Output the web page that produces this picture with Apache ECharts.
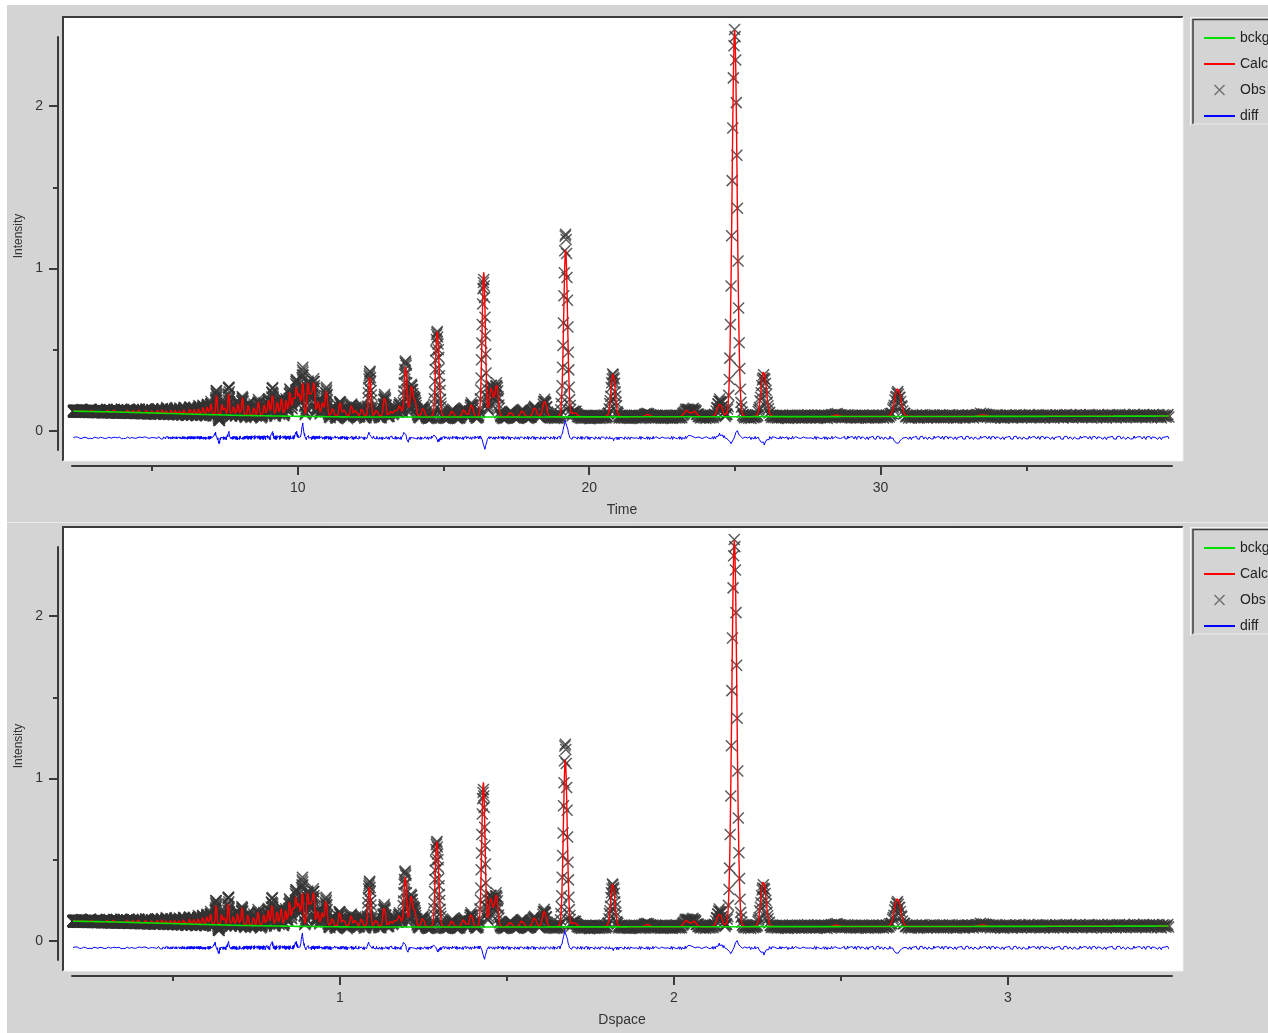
<!DOCTYPE html>
<html>
<head>
<meta charset="utf-8">
<title>Powder diffraction fit – Time and Dspace</title>
<script src="https://cdn.jsdelivr.net/npm/echarts@6/dist/echarts.min.js"></script>
<style>
  html, body { margin: 0; padding: 0; background: #fff; }
  #chart { width: 1268px; height: 1033px; }
</style>
</head>
<body>
<div id="chart"></div>
<script>
// ---------------------------------------------------------------------------
// Data: one time-of-flight histogram, refined profile shown twice
// (against flight time and against d-spacing, d = t / DIFC).
// ---------------------------------------------------------------------------
const DIFC = 11.46;                       // time-of-flight per Å
const TOF_FIRST = 2.3, TOF_LAST = 39.9;   // histogram limits
const BIN_STEP = 0.0008;                  // constant Δt/t binning
const PEAK_SIGMA = 0.0034;                // Gaussian σ as a fraction of peak position
const DIFF_OFFSET = -0.042;               // where the difference curve is drawn

// refined background (bckg)
const bckgTof = [2.3, 3.5, 5.0, 6.5, 8.0, 10.0, 12.0, 16.0, 25.0, 35.0, 40.0];
const bckgInt = [0.122, 0.118, 0.111, 0.103, 0.096, 0.090, 0.086, 0.086, 0.088, 0.090, 0.092];

// reflections: position (time) and calculated height above background
const peakTof = [2.6, 2.9, 3.2, 3.45, 3.7, 3.95, 4.15, 4.35, 4.55, 4.8,
                 5.0, 5.2, 5.35, 5.5, 5.65, 5.8, 5.95, 6.1, 6.3, 6.45,
                 6.6, 6.75, 6.9, 7.02, 7.21, 7.4, 7.5, 7.63, 7.8, 7.95,
                 8.1, 8.3, 8.5, 8.65, 8.85, 9.0, 9.13, 9.3, 9.44, 9.6,
                 9.73, 9.85, 9.95, 10.05, 10.17, 10.35, 10.45, 10.55, 10.7, 10.85,
                 10.98, 11.2, 11.45, 11.6, 11.84, 12.0, 12.2, 12.47, 12.7, 12.98,
                 13.2, 13.35, 13.5, 13.7, 13.9, 14.02, 14.3, 14.77, 14.84, 15.3,
                 15.7, 15.96, 16.38, 16.64, 16.82, 17.3, 17.7, 18.13, 18.47, 19.19,
                 19.5, 20.82, 22.0, 23.34, 23.6, 24.48, 24.99, 25.99, 28.48, 30.59,
                 33.5];
const peakInt = [0.008, 0.010, 0.009, 0.012, 0.012, 0.015, 0.012, 0.014, 0.018, 0.020,
                 0.016, 0.022, 0.025, 0.028, 0.022, 0.030, 0.028, 0.035, 0.040, 0.035,
                 0.045, 0.050, 0.060, 0.070, 0.130, 0.070, 0.050, 0.140, 0.060, 0.080,
                 0.110, 0.070, 0.060, 0.090, 0.070, 0.100, 0.140, 0.090, 0.110, 0.100,
                 0.160, 0.120, 0.190, 0.150, 0.210, 0.210, 0.140, 0.220, 0.100, 0.090,
                 0.170, 0.060, 0.090, 0.050, 0.070, 0.050, 0.060, 0.250, 0.050, 0.130,
                 0.040, 0.050, 0.080, 0.310, 0.190, 0.100, 0.060, 0.450, 0.180, 0.040,
                 0.050, 0.080, 0.890, 0.190, 0.200, 0.030, 0.040, 0.060, 0.100, 1.030,
                 0.030, 0.270, 0.015, 0.040, 0.035, 0.080, 2.380, 0.285, 0.010, 0.175,
                 0.010];

// misfit (observed minus calculated) around individual reflections
const misfitTof = [7.18, 7.3, 7.63, 9.13, 9.95, 10.17, 12.47, 13.68, 13.76, 14.74,
                   14.8, 16.34, 16.41, 19.19, 20.84, 23.5, 24.48, 24.93, 25.05, 26.0, 30.6];
const misfitInt = [0.03, -0.03, 0.03, 0.03, 0.03, 0.08, 0.03, 0.045, -0.025, 0.03,
                   -0.03, 0.02, -0.07, 0.10, -0.01, 0.015, 0.02, -0.045, 0.05, -0.035, -0.03];

// counting scatter of the observations, in thousandths, and its scale along the pattern
const residual = [4, -7, 2, 9, -3, -10, 6, 1, -5, 8, -2, -8, 5, 10, -6, 3, -1, 7, -9, 0,
                  6, -4, -11, 2, 8, -3, 5, -7, 1, 9, -6, -2, 4, -9, 7, 3, -5, 10, -1, -8,
                  2, 6, -4, 8, -10, 1, 5, -3, 9, -7, -1, 4, -6, 11, -2, 3, -8, 6, 0, -5, 7];
const noiseTof   = [2.3, 5.0, 7.0, 9.0, 11.0, 13.0, 20.0, 40.0];
const noiseScale = [0.5, 0.6, 1.0, 1.4, 1.2, 1.0, 1.0, 1.0];

// axis ticks
const timeMajor = [10, 20, 30], timeMinor = [5, 15, 25, 35];
const dMajor = [1, 2, 3], dMinor = [0.5, 1.5, 2.5];
const intMajor = [0, 1, 2], intMinor = [0.5, 1.5];

// ---------------------------------------------------------------------------
// Profile
// ---------------------------------------------------------------------------
function knotValue(xs, ys, x) {
  if (x <= xs[0]) return ys[0];
  for (let i = 1; i < xs.length; i++) {
    if (x <= xs[i]) {
      const f = (x - xs[i - 1]) / (xs[i] - xs[i - 1]);
      return ys[i - 1] + f * (ys[i] - ys[i - 1]);
    }
  }
  return ys[ys.length - 1];
}
function peakSum(t, centres, heights) {
  let s = 0;
  for (let i = 0; i < centres.length; i++) {
    const u = (t - centres[i]) / (PEAK_SIGMA * centres[i]);
    if (u > -6 && u < 6) s += heights[i] * Math.exp(-0.5 * u * u);
  }
  return s;
}

const bins = [];
for (let t = TOF_FIRST; t <= TOF_LAST; t *= 1 + BIN_STEP) bins.push(t);

const bckg = bins.map(t => knotValue(bckgTof, bckgInt, t));
const calc = bins.map((t, i) => bckg[i] + peakSum(t, peakTof, peakInt));
const obs  = bins.map((t, i) => calc[i] + peakSum(t, misfitTof, misfitInt)
                 + residual[i % residual.length] * 0.001 * knotValue(noiseTof, noiseScale, t));
const diff = obs.map((v, i) => v - calc[i] + DIFF_OFFSET);

// ---------------------------------------------------------------------------
// Chart
// ---------------------------------------------------------------------------
const FONT = '"Liberation Sans", Arial, sans-serif';
const AXIS_COLOR = '#3a3a3a';
const TEXT_COLOR = '#333';
const X_MARK = 'path://M0 0L10 10M10 0L0 10';
const BAR = 'path://M0 0H31V2H0Z';
const PANEL_SHIFT = 510;
const Y_MIN = -0.117, Y_MAX = 2.425;

function xAxesFor(grid, min, max, major, minor, name) {
  const base = {
    type: 'value', gridIndex: grid, min, max, position: 'bottom', offset: 16,
    splitLine: { show: false }
  };
  return [
    Object.assign({}, base, {
      name, nameLocation: 'middle', nameGap: 37,
      nameTextStyle: { fontFamily: FONT, fontSize: 14, color: TEXT_COLOR },
      axisLine: { onZero: false, lineStyle: { color: AXIS_COLOR, width: 2 } },
      axisTick: { customValues: major, length: 9, lineStyle: { color: AXIS_COLOR, width: 2 } },
      axisLabel: { customValues: major, margin: 15, fontFamily: FONT, fontSize: 14, color: TEXT_COLOR }
    }),
    Object.assign({}, base, {
      axisLine: { show: false, onZero: false },
      axisTick: { customValues: minor, length: 5, lineStyle: { color: AXIS_COLOR, width: 2 } },
      axisLabel: { show: false }
    })
  ];
}
function yAxesFor(grid) {
  const base = {
    type: 'value', gridIndex: grid, min: Y_MIN, max: Y_MAX, position: 'left', offset: 14,
    splitLine: { show: false }
  };
  return [
    Object.assign({}, base, {
      name: 'Intensity', nameLocation: 'middle', nameGap: 33, nameRotate: 90,
      nameTextStyle: { fontFamily: FONT, fontSize: 12, color: TEXT_COLOR, padding: [0, 0, 0, 15] },
      axisLine: { onZero: false, lineStyle: { color: AXIS_COLOR, width: 2 } },
      axisTick: { customValues: intMajor, length: 9, lineStyle: { color: AXIS_COLOR, width: 2 } },
      axisLabel: { customValues: intMajor, margin: 15, fontFamily: FONT, fontSize: 14, color: TEXT_COLOR }
    }),
    Object.assign({}, base, {
      axisLine: { show: false, onZero: false },
      axisTick: { customValues: intMinor, length: 5, lineStyle: { color: AXIS_COLOR, width: 2 } },
      axisLabel: { show: false }
    })
  ];
}

function panelSeries(axis, toX) {
  const pts = arr => arr.map((v, i) => [toX(bins[i]), v]);
  const line = (name, data, color, width, z) => ({
    name, type: 'line', xAxisIndex: axis, yAxisIndex: axis, data,
    color, showSymbol: false, symbol: 'none', clip: false, silent: true, z,
    lineStyle: { color, width }
  });
  return [
    {
      name: 'Obs', type: 'scatter', xAxisIndex: axis, yAxisIndex: axis, data: pts(obs),
      symbol: X_MARK, symbolSize: 11, clip: false, silent: true, large: false,
      progressive: 0, z: 2,
      itemStyle: { color: 'rgba(0,0,0,0)', borderColor: '#333333', borderWidth: 1.5 }
    },
    line('Calc', pts(calc), '#ff0000', 1.4, 3),
    line('diff', pts(diff), '#0000ff', 1, 3),
    line('bckg', pts(bckg), '#00e000', 1.6, 4)
  ];
}

function frame(dy) {
  const top = 17 + dy, bottom = 461 + dy, left = 63, right = 1183;
  return [
    { type: 'rect', silent: true, shape: { x: left, y: top, width: right - left, height: bottom - top },
      style: { fill: '#ffffff' } },
    { type: 'polyline', silent: true, shape: { points: [[left, bottom], [left, top], [right, top]] },
      style: { stroke: '#3c3c3c', lineWidth: 2, fill: null } },
    { type: 'polyline', silent: true, shape: { points: [[right, top], [right, bottom], [left, bottom]] },
      style: { stroke: '#f2f2f2', lineWidth: 1, fill: null } },
    // legend box
    { type: 'polyline', silent: true, shape: { points: [[1190.5, 126 + dy], [1190.5, 17.5 + dy], [1268, 17.5 + dy]] },
      style: { stroke: '#f4f4f4', lineWidth: 1, fill: null } },
    { type: 'polyline', silent: true, shape: { points: [[1193, 124 + dy], [1193, 19.5 + dy], [1268, 19.5 + dy]] },
      style: { stroke: '#3c3c3c', lineWidth: 1.5, fill: null } },
    { type: 'line', silent: true, shape: { x1: 1193, y1: 124 + dy, x2: 1268, y2: 124 + dy },
      style: { stroke: '#ececec', lineWidth: 1 } }
  ];
}

function legendFor(dy) {
  return {
    orient: 'vertical', left: 1199, top: 25 + dy,
    itemWidth: 31, itemHeight: 10, itemGap: 10, selectedMode: false,
    textStyle: { fontFamily: FONT, fontSize: 14, color: '#222', lineHeight: 16 },
    data: [
      { name: 'bckg', icon: BAR, itemStyle: { borderWidth: 0 } },
      { name: 'Calc', icon: BAR, itemStyle: { borderWidth: 0 } },
      { name: 'Obs', icon: X_MARK, itemStyle: { color: 'rgba(0,0,0,0)', borderColor: '#555', borderWidth: 1.4 } },
      { name: 'diff', icon: BAR, itemStyle: { borderWidth: 0 } }
    ]
  };
}

const chart = echarts.init(document.getElementById('chart'), null, { renderer: 'canvas' });
chart.setOption({
  animation: false,
  backgroundColor: '#d4d4d4',
  grid: [
    { left: 72, top: 37, width: 1100, height: 413 },
    { left: 72, top: 37 + PANEL_SHIFT, width: 1100, height: 413 }
  ],
  xAxis: [
    ...xAxesFor(0, 2.25, 40, timeMajor, timeMinor, 'Time'),
    ...xAxesFor(1, 0.1976, 3.491, dMajor, dMinor, 'Dspace')
  ],
  yAxis: [...yAxesFor(0), ...yAxesFor(1)],
  legend: [legendFor(0), legendFor(PANEL_SHIFT)],
  graphic: {
    elements: [
      { type: 'rect', silent: true, shape: { x: 0, y: 0, width: 1268, height: 5 }, style: { fill: '#ffffff' } },
      { type: 'rect', silent: true, shape: { x: 0, y: 0, width: 7, height: 1033 }, style: { fill: '#ffffff' } },
      { type: 'line', silent: true, shape: { x1: 7, y1: 522.5, x2: 1268, y2: 522.5 },
        style: { stroke: '#ebebeb', lineWidth: 1 } },
      ...frame(0),
      ...frame(PANEL_SHIFT)
    ]
  },
  series: [
    ...panelSeries(0, t => t),
    ...panelSeries(2, t => t / DIFC)
  ]
});
</script>
</body>
</html>
